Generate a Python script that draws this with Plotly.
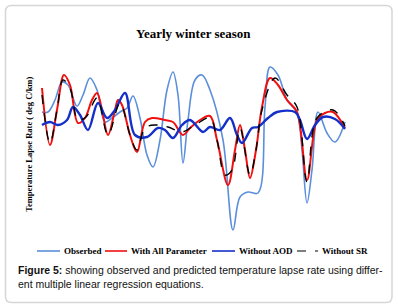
import plotly.graph_objects as go

# ---- data (time step index, lapse rate deg C/km) ----
obs_x = [1, 7, 14, 21, 27, 36, 42, 49, 56, 64, 71, 79, 86, 92, 99, 106, 112, 119, 126, 132, 137,
         142, 147, 154, 161, 169, 182, 192, 199, 207, 217, 224, 229, 237, 246, 256, 261, 266, 271,
         277, 286, 294, 304]
obs_y = [3.8, 3.8, 5.0, 6.8, 6.5, 4.4, 5.5, 7.2, 6.0, 2.8, 3.2, 3.8, 4.2, 5.4, 3.2, -0.5, -1.7, 1.0,
         6.0, 7.8, 5.5, -1.3, 3.0, 7.0, 7.5, 6.0, 1.0, -8.0, -4.7, -4.2, -4.3, 4.3, 8.3, 7.5, 5.0,
         3.7, 0.0, -5.3, -2.0, 3.8, 1.7, 0.8, 2.8]

all_x = [1, 9, 16, 23, 29, 37, 44, 51, 56, 61, 67, 74, 77, 81, 89, 96, 104, 111, 124, 132, 142,
         149, 159, 169, 176, 187, 194, 199, 204, 209, 215, 221, 229, 237, 246, 256, 266, 276, 284,
         292, 304]
all_y = [6.2, 0.5, 4.0, 7.5, 6.5, 2.7, 3.2, 5.0, 5.7, 4.0, 1.5, 4.0, 5.0, 4.5, 1.5, -0.2, 2.8, 3.2,
         3.0, 2.8, 1.5, 2.2, 3.0, 3.4, 1.0, -3.5, 0.0, 2.5, 0.0, -2.8, 0.0, 4.3, 7.2, 6.5, 5.0, 3.8,
         -3.0, 3.0, 3.7, 3.8, 2.2]

aod_x = [1, 9, 17, 26, 32, 39, 47, 57, 66, 74, 84, 94, 106, 117, 124, 132, 141, 149, 162, 169,
         179, 189, 196, 201, 211, 217, 227, 236, 254, 259, 266, 274, 282, 294, 304]
aod_y = [2.5, 2.8, 2.5, 3.0, 4.3, 3.5, 2.0, 4.7, 3.2, 4.0, 5.7, 1.5, 1.3, 2.2, 2.0, 1.2, 2.5, 3.0,
         1.8, 2.3, 2.0, 3.2, 1.5, 0.7, 2.2, 2.3, 3.2, 3.8, 3.8, 3.0, 1.1, 2.5, 3.3, 3.1, 2.1]

sr_x = [1, 9, 16, 22, 29, 37, 45, 56, 67, 79, 89, 96, 104, 114, 127, 141, 154, 169, 176, 184,
        191, 199, 209, 215, 221, 234, 246, 256, 266, 276, 292, 304]
sr_y = [5.5, 0.7, 4.0, 7.0, 6.2, 3.0, 3.3, 5.2, 1.5, 4.7, 1.5, 0.0, 2.2, 2.5, 2.3, 1.8, 2.5, 3.2,
        1.0, -2.5, -2.0, 2.2, -2.5, 0.0, 4.0, 7.2, 5.5, 4.3, -3.2, 3.2, 4.0, 2.4]

names = ["Obserbed", "With All Parameter", "Without AOD", "Without SR"]
colors = ["#5B8FDA", "#F01010", "#1530C8", "black"]
widths = [1.6, 2.0, 2.4, 1.4]
dashes = ["solid", "solid", "solid", "dash"]
series = [(obs_x, obs_y), (all_x, all_y), (aod_x, aod_y), (sr_x, sr_y)]

fig = go.Figure()
for (xs, ys), nm, c, w, d in zip(series, names, colors, widths, dashes):
    fig.add_trace(go.Scatter(x=xs, y=ys, mode="lines", name=nm, showlegend=False,
                             line=dict(color=c, width=w, dash=d, shape="spline", smoothing=1.0)))

W, H = 398, 307
L, R, T, B = 41, 52, 58, 69
pw, ph = W - L - R, H - T - B


def px2paper(x, y):
    return (x - L) / pw, 1 - (y - T) / ph


def P(x, y):
    a, b = px2paper(x, y)
    return f"{a:.5f},{b:.5f}"


# rounded card border
x0, y0, x1, y1, r = 5.5, 5.5, 392, 302.5, 6
path = (f"M {P(x0+r, y0)} L {P(x1-r, y0)} Q {P(x1, y0)} {P(x1, y0+r)} "
        f"L {P(x1, y1-r)} Q {P(x1, y1)} {P(x1-r, y1)} L {P(x0+r, y1)} "
        f"Q {P(x0, y1)} {P(x0, y1-r)} L {P(x0, y0+r)} Q {P(x0, y0)} {P(x0+r, y0)} Z")

serif = "Liberation Serif, Times New Roman, serif"
sans = "Liberation Sans, Arial, sans-serif"

shapes = [dict(type="path", xref="paper", yref="paper", path=path,
               line=dict(color="#D6D6D6", width=1.5), layer="below")]
annotations = []

# manual legend
leg_y = 251
leg_items = [(37, 60, 62), (105, 127, 129), (212, 235, 237), (297, 318, 320)]
for (ls, le, tx0), nm, c, w, d in zip(leg_items, names, colors, widths, dashes):
    a0, b0 = px2paper(ls, leg_y)
    a1, _ = px2paper(le, leg_y)
    shapes.append(dict(type="line", xref="paper", yref="paper", x0=a0, x1=a1, y0=b0, y1=b0,
                       line=dict(color=c, width=1.6 if d == "solid" else 1.2,
                                 dash="dash" if d == "dash" else "solid")))
    ta, tb = px2paper(tx0, leg_y)
    annotations.append(dict(text=f"<b>{nm}</b>", xref="paper", yref="paper", x=ta, y=tb,
                            showarrow=False, xanchor="left", yanchor="middle",
                            font=dict(family=serif, size=9, color="black")))

tx, ty = px2paper(193, 33)
yx, yy = px2paper(29, 145)
cx, cy = px2paper(16, 277)

annotations += [
    dict(text="<b>Yearly winter season</b>", xref="paper", yref="paper", x=tx, y=ty,
         showarrow=False, font=dict(family=serif, size=13, color="black"),
         xanchor="center", yanchor="middle"),
    dict(text="<b>Temperature Lapse Rate ( deg C/km)</b>", xref="paper", yref="paper",
         x=yx, y=yy, showarrow=False, textangle=-90,
         font=dict(family=serif, size=8.5, color="black"),
         xanchor="center", yanchor="middle"),
    dict(text="<b>Figure 5:</b> showing observed and predicted temperature lapse rate using differ-"
              "<br>ent multiple linear regression equations.",
         xref="paper", yref="paper", x=cx, y=cy, showarrow=False, align="left",
         font=dict(family=sans, size=10.5, color="#111111"),
         xanchor="left", yanchor="middle"),
]

fig.update_layout(
    width=W, height=H,
    margin=dict(l=L, r=R, t=T, b=B, pad=0, autoexpand=False),
    paper_bgcolor="white", plot_bgcolor="white",
    showlegend=False,
    xaxis=dict(range=[0, 305], visible=False, fixedrange=True),
    yaxis=dict(range=[-8.8, 9.2], visible=False, fixedrange=True),
    shapes=shapes,
    annotations=annotations,
)

fig.write_html("out.html", config={"displayModeBar": False},
               post_script="document.body.style.margin='0';document.body.style.overflow='hidden';")
